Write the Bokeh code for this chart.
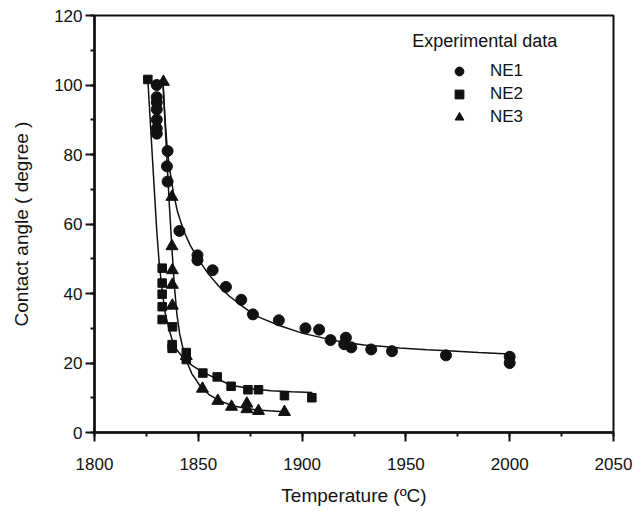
from bokeh.plotting import figure
from bokeh.models import Range1d, SingleIntervalTicker, Legend, LegendItem, Label
from bokeh.embed import file_html
from bokeh.resources import INLINE

# ---- data ----
ne1_T = [1830, 1830, 1830, 1830, 1830, 1830, 1830, 1835.2, 1834.9, 1835.2, 1840.9,
         1849.6, 1849.6, 1856.9, 1863.3, 1870.7, 1876.3, 1888.8, 1901.6, 1908.2,
         1913.7, 1921.1, 1920.3, 1923.7, 1933.3, 1943.3, 1969.3, 2000, 2000]
ne1_angle = [100, 96.5, 95, 93, 90, 87.5, 86, 81, 76.6, 72.2, 58,
             51, 49.6, 46.7, 41.9, 38.2, 34, 32.3, 30, 29.6,
             26.6, 27.3, 25.4, 24.5, 23.9, 23.4, 22.2, 21.8, 20]

ne2_T = [1825.7, 1832.6, 1832.6, 1832.6, 1832.6, 1832.6, 1837.6, 1837.4, 1837.4,
         1844.2, 1844.2, 1852.2, 1859.1, 1865.8, 1873.9, 1879, 1891.5, 1904.7]
ne2_angle = [101.6, 47.3, 43, 39.8, 36.2, 32.5, 30.4, 25.3, 24.2,
             23, 21, 17.1, 16, 13.3, 12.3, 12.3, 10.6, 10]

ne3_T = [1833.2, 1837.3, 1837.3, 1837.5, 1837.5, 1837.5, 1844.2, 1852, 1859.4,
         1866, 1873.4, 1873.4, 1879, 1891.5]
ne3_angle = [100.9, 67.8, 53.6, 46.7, 42.5, 36.5, 22, 12.6, 9.1,
             7.4, 8.3, 6.7, 6.2, 5.9]

# fitted curves
ne1_fit_T = [1833, 1834, 1835, 1836, 1838, 1840, 1843, 1846, 1850, 1855, 1860, 1865,
             1870, 1876, 1880, 1889, 1900, 1913, 1920, 1930, 1938, 1947, 1960, 1970,
             1985, 2000]
ne1_fit_angle = [101, 90, 82, 76.5, 69, 63.5, 58, 54, 49.8, 45.5, 42, 39.2,
                 36.9, 34.3, 33, 30.8, 28.6, 26.8, 26, 25.2, 24.8, 24.3, 23.8, 23.5,
                 23, 22.6]

ne2_fit_T = [1825.7, 1828, 1830, 1831, 1832, 1833, 1834, 1836, 1838, 1840, 1843,
             1847, 1852, 1858, 1866, 1875, 1885, 1895, 1905]
ne2_fit_angle = [101.5, 78, 58, 50, 44, 39, 34.5, 29.5, 25.5, 23.5, 21.3,
                 19.3, 17.4, 15.7, 13.6, 12.6, 12, 11.7, 11.5]

ne3_fit_T = [1833, 1834.5, 1836, 1837.3, 1838.5, 1839.7, 1841, 1842.5, 1844, 1847,
             1851, 1855, 1860, 1866, 1873, 1880, 1891.5]
ne3_fit_angle = [100.5, 83, 66, 53, 42, 34, 28.5, 24.5, 21, 16.8,
                 13.3, 11, 9.2, 7.8, 6.9, 6.4, 6]

x_ticks_interval = 50
y_ticks_interval = 20
legend_title = "Experimental data"
series_names = ["NE1", "NE2", "NE3"]

FONT = "Liberation Sans"
INK = "#111111"

p = figure(width=635, height=508, output_backend="svg", toolbar_location=None,
           x_range=Range1d(1800, 2050), y_range=Range1d(0, 120),
           min_border_left=94, min_border_right=22, min_border_top=15,
           min_border_bottom=71)
p.grid.visible = False
p.outline_line_color = INK
p.outline_line_width = 2
p.background_fill_color = "white"
p.border_fill_color = "white"

p.xaxis.ticker = SingleIntervalTicker(interval=x_ticks_interval, num_minor_ticks=2)
p.yaxis.ticker = SingleIntervalTicker(interval=y_ticks_interval, num_minor_ticks=2)

for ax in (p.xaxis, p.yaxis):
    ax.axis_line_width = 2.5
    ax.axis_line_color = INK
    ax.major_tick_line_width = 2
    ax.minor_tick_line_width = 2
    ax.major_tick_line_color = INK
    ax.minor_tick_line_color = INK
    ax.major_tick_in = 0
    ax.major_tick_out = 9
    ax.minor_tick_in = 0
    ax.minor_tick_out = 4
    ax.major_label_text_font = FONT
    ax.major_label_text_font_size = "17px"
    ax.major_label_text_color = INK
    ax.axis_label_text_font = FONT
    ax.axis_label_text_font_size = "19px"
    ax.axis_label_text_font_style = "normal"
    ax.axis_label_text_color = INK

p.xaxis.axis_label = "Temperature (ºC)"
p.yaxis.axis_label = "Contact angle ( degree )"
p.xaxis.major_label_standoff = 16
p.yaxis.major_label_standoff = 3
p.xaxis.axis_label_standoff = 12
p.yaxis.axis_label_standoff = 19

# fitted lines
p.line(ne1_fit_T, ne1_fit_angle, line_color=INK, line_width=1.5)
p.line(ne2_fit_T, ne2_fit_angle, line_color=INK, line_width=1.5)
p.line(ne3_fit_T, ne3_fit_angle, line_color=INK, line_width=1.5)

# data points
r1 = p.scatter(ne1_T, ne1_angle, marker="circle", size=11, fill_color=INK, line_color=INK)
r2 = p.scatter(ne2_T, ne2_angle, marker="square", size=8.5, fill_color=INK, line_color=INK)
r3 = p.scatter(ne3_T, ne3_angle, marker="triangle", size=12, fill_color=INK, line_color=INK)

legend = Legend(items=[LegendItem(label=series_names[0], renderers=[r1]),
                       LegendItem(label=series_names[1], renderers=[r2]),
                       LegendItem(label=series_names[2], renderers=[r3])],
                location=(354, 304), glyph_width=22, glyph_height=22,
                label_height=22, spacing=1, padding=0, margin=0,
                label_standoff=20, label_text_font=FONT,
                label_text_font_size="17px", label_text_color=INK,
                border_line_color=None, background_fill_alpha=0)
p.add_layout(legend, "center")

title = Label(x=317.7, y=391.7, x_units="screen", y_units="screen",
              text=legend_title, text_font=FONT, text_font_size="18px",
              text_color=INK, text_baseline="middle", text_align="left")
p.add_layout(title)

open("out.html", "w").write(file_html(p, INLINE))
